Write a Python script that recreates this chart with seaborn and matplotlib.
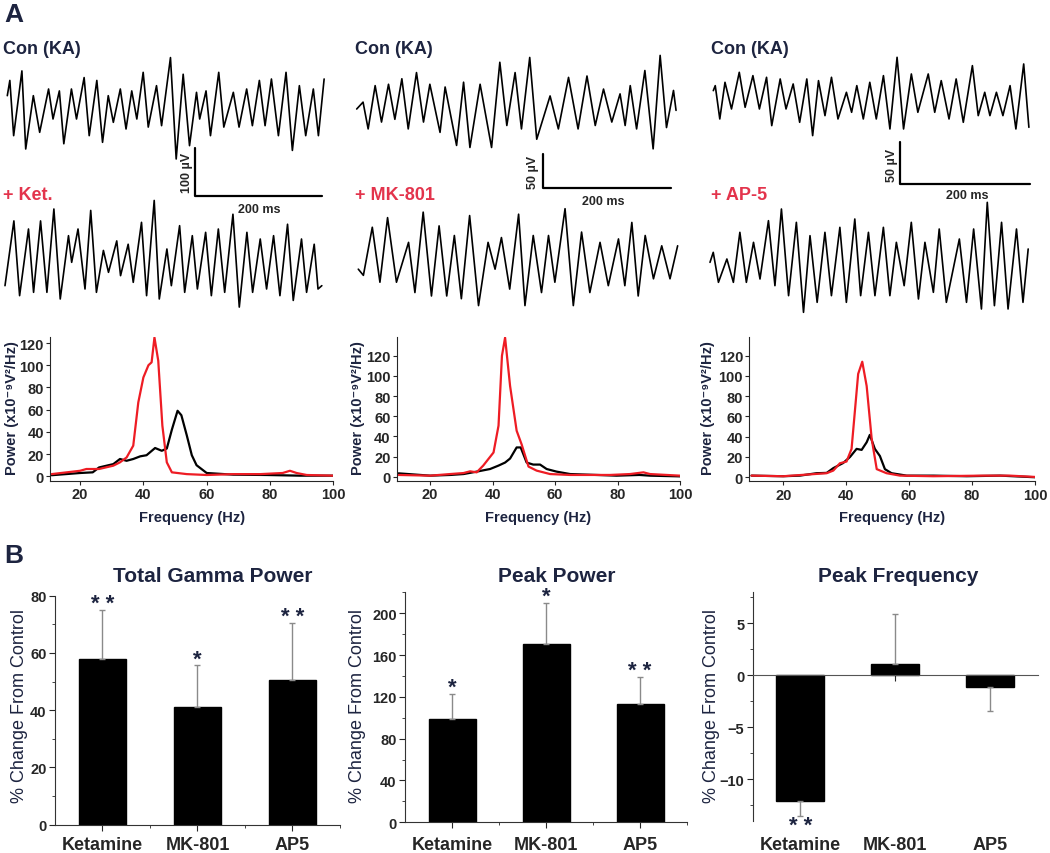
import matplotlib
matplotlib.use("Agg")
import matplotlib.pyplot as plt
import seaborn as sns
from matplotlib.ticker import MultipleLocator

# ---- raw LFP traces: time (ms) and voltage (uV) ----
con1_t = [0, 4, 10, 23, 29, 41, 51, 65, 72, 82, 89, 101, 109, 121, 129, 141, 150, 159, 167, 178,
          187, 196, 204, 214, 222, 235, 243, 257, 266, 277, 287, 298, 303, 313, 320, 333, 341,
          356, 365, 377, 386, 397, 406, 416, 427, 439, 449, 460, 470, 482, 490, 499]
con1_v = [28, 60, -56, 80, -84, 28, -49, 42, -21, 38, -73, 42, -21, 66, -56, 60, -70, 28, -28, 42,
          -42, 38, -21, 77, -38, 49, -35, 108, -105, 73, -77, 35, -21, 38, -56, 77, -38,
          35, -38, 42, -35, 60, -35, 63, -56, 77, -87, 49, -56, 42, -56, 63]
ket_t = [0, 14, 23, 37, 45, 56, 66, 77, 87, 100, 105, 115, 126, 135, 144, 155, 163, 176, 182, 194,
         202, 215, 223, 235, 243, 255, 262, 275, 283, 295, 303, 316, 325, 336, 346, 359, 369, 381,
         390, 402, 412, 423, 433, 445, 454, 467, 475, 487, 493, 499]
ket_v = [-56, 80, -77, 63, -70, 80, -70, 105, -84, 49, -7, 63, -63, 102, -70, 18, -28, 38, -35, 31,
         -49, 77, -77, 123, -84, 21, -56, 70, -70, 49, -63, 56, -77, 63, -70, 94, -101, 56,
         -70, 42, -63, 49, -77, 73, -87, 42, -70, 31, -63, -56]
con2_t = [0, 10, 18, 29, 39, 50, 60, 71, 81, 94, 105, 115, 131, 139, 157, 168, 178, 194, 212, 225,
          236, 249, 259, 272, 283, 304, 317, 333, 348, 362, 375, 388, 401, 414, 422, 430, 440,
          453, 466, 477, 487, 498, 502]
con2_v = [0, 10, -29, 34, -19, 36, -15, 44, -29, 53, -19, 36, -34, 32, -53, 39, -56, 36, -56, 68,
          -24, 53, -29, 75, -44, 19, -29, 46, -29, 48, -24, 29, -19, 22, -24, 34, -29,
          56, -58, 78, -27, 27, -2]
mk_t = [0, 8, 22, 34, 46, 60, 79, 89, 102, 115, 127, 139, 151, 162, 175, 189, 204, 215, 225, 238,
        252, 262, 275, 288, 299, 309, 325, 338, 351, 364, 380, 393, 409, 419, 430, 440, 451,
        464, 477, 490, 502]
mk_v = [-10, -19, 51, -29, 65, -29, 29, -44, 73, -49, 53, -49, 39, -53, 68, -63, 29, -10, 36, -39,
        70, -63, 39, -44, 39, -29, 78, -63, 44, -44, 29, -34, 34, -34, 58, -49, 39,
        -24, 24, -24, 24]
con3_t = [0, 3, 10, 18, 28, 40, 49, 61, 71, 82, 90, 103, 112, 123, 133, 144, 153, 162, 172, 182,
          192, 205, 213, 221, 231, 241, 251, 262, 272, 283, 293, 305, 315, 331, 341, 351, 363,
          374, 385, 399, 408, 418, 426, 436, 446, 457, 466, 478, 486]
con3_v = [14, 20, -20, 24, -8, 36, -6, 32, -8, 30, -28, 28, -8, 22, -24, 28, -40, 26, -16, 30,
          -20, 12, -12, 20, -20, 24, -20, 32, -32, 54, -32, 34, -12, 34, -12, 26, -20,
          28, -24, 44, -16, 12, -16, 12, -16, 20, -32, 46, -30]
ap5_t = [0, 5, 13, 26, 36, 46, 56, 67, 77, 90, 100, 110, 121, 133, 144, 154, 165, 177, 187, 200,
         210, 223, 232, 244, 254, 267, 277, 287, 299, 310, 321, 331, 344, 353, 364, 384, 395,
         406, 418, 427, 438, 449, 459, 472, 482, 490]
ap5_v = [8, 20, -16, 12, -16, 44, -16, 32, -12, 58, -20, 72, -32, 56, -52, 40, -40, 44, -32, 50,
         -40, 60, -32, 44, -32, 50, -32, 32, -20, 56, -36, 32, -28, 48, -40, 36, -40,
         48, -48, 80, -44, 56, -48, 48, -40, 24]

# ---- power spectra (Hz, x10^-9 V^2/Hz) ----
f1_con = [11, 20, 24, 26, 30.5, 32.6, 34.7, 36.8, 39, 41, 43.7, 45.8, 47.4, 49, 50.8, 52, 53.7,
          55.3, 56.8, 60, 68.4, 79, 89.5, 100]
p1_con = [1, 3, 3.6, 8, 11, 15.6, 14, 15.6, 18, 19, 25.5, 23, 25, 42, 59, 55, 37,
          19, 10, 3, 1.5, 1.2, 0.6, 0.6]
f1_drug = [11, 20, 22, 26, 30.5, 32.6, 34.7, 36.8, 38.4, 40, 41.6, 42.6, 43.5, 44.7, 46, 47.4, 49,
           53.7, 60, 68.4, 77, 84, 86.3, 88.4, 91.6, 100]
p1_drug = [2, 5, 6.6, 6.6, 9.6, 12.6, 17, 27.6, 66.6, 89, 100, 102.6, 125, 104, 45.6, 12.6, 3.6,
           2, 1.2, 2, 2, 3, 5, 3, 1.2, 0.6]
f2_con = [9.9, 20, 26.4, 30.7, 34.9, 39.2, 41.9, 44, 45.6, 47.7, 49, 50.9, 53, 55.2, 57.3, 60.5,
          64.8, 73.3, 79.7, 87, 90.4, 100]
p2_con = [3.3, 1, 1.7, 2.6, 5, 7.6, 11, 14, 18, 29, 29, 14, 12, 12, 7.6, 5,
          2.6, 1.7, 1, 1.7, 1, 0.3]
f2_drug = [9.9, 20, 26.4, 30.7, 32.8, 34.9, 37, 40.3, 41.9, 43, 44, 45.6, 47.7, 49.3, 51.5, 54.1,
           58.4, 64.8, 77.6, 84, 88.3, 90.4, 100]
p2_drug = [1.7, 1, 2.6, 3.6, 5.3, 4.3, 11, 24, 50.6, 120, 138, 90, 45.6, 32, 10, 6,
           2.6, 1.7, 1.7, 2.6, 4.3, 2.6, 1]
f3_con = [9.9, 20, 25.3, 30.6, 33.8, 35.9, 39, 41.2, 43.3, 44.9, 46.5, 47.5, 49.1, 50.7, 52.3,
          54.4, 59.2, 67.7, 78.3, 88.9, 100]
p3_con = [1.6, 1, 1.6, 4, 4.3, 9, 14, 20, 28, 27, 34.5, 41.8, 28, 21, 8,
          4, 1.6, 1.6, 1, 1.6, 0]
f3_drug = [9.9, 20, 30.6, 33.8, 35.9, 38, 40.1, 41.7, 43.8, 45.1, 46.5, 48.1, 49.7, 52.8, 57.1,
           67.7, 83.6, 92, 100]
p3_drug = [1.6, 1, 3.3, 4, 6.6, 13.8, 15.5, 28, 102, 114, 90, 37.8, 8, 4, 1.6,
           1, 1.6, 1.6, 0.3]

# ---- summary bars (% change from control) ----
groups = ['Ketamine', 'MK-801', 'AP5']
gamma_mean = [58, 41, 50.6]
gamma_err = [17, 14.7, 19.9]
gamma_sig = ['* *', '*', '* *']
peak_mean = [99, 171, 113]
peak_err = [24, 39, 26]
peak_sig = ['*', '*', '* *']
freq_mean = [-12.1, 1.1, -1.1]
freq_err = [1.4, 4.8, 2.3]
freq_sig = ['* *', '', '']

NAVY = '#1d2440'
RED_TXT = '#e3344c'
RED = '#ee1c24'
W, H = 1050, 854

sns.set_style("ticks")
plt.rcParams['font.family'] = ['Liberation Sans', 'DejaVu Sans']
plt.rcParams['font.weight'] = 'bold'

fig = plt.figure(figsize=(W / 100, H / 100), dpi=100)


def px_axes(x0, y0, x1, y1):
    return fig.add_axes([x0 / W, 1 - y1 / H, (x1 - x0) / W, (y1 - y0) / H])


def ftext(x, y, s, **kw):
    fig.text(x / W, 1 - y / H, s, **kw)


def trace(t, v, t0px, ms_px, cy, uv_px):
    ax = px_axes(t0px - 4, cy - 80, t0px + 330, cy + 80)
    sns.lineplot(x=t, y=v, ax=ax, color='black', lw=1.2, estimator=None, sort=False)
    ax.set_xlim(-4 * ms_px, 330 * ms_px)
    ax.set_ylim(-80 * uv_px, 80 * uv_px)
    ax.axis('off')
    return ax


def scalebar(ax, bx, by, t0px, ms_px, cy, uv_px, uv):
    tx = (bx - t0px) * ms_px
    yb = (cy - by) * uv_px
    ax.plot([tx, tx, tx + 200], [yb + uv, yb, yb], color='black', lw=1.6, clip_on=False)


# column layouts: trace params (t0 px, ms/px, center px, uV/px)
cols = [
    dict(tr1=(con1_t, con1_v, 7.3, 1.575, 110, 2.1), tr2=(ket_t, ket_v, 5, 1.575, 260, 2.1),
         bar=(195, 197, 100), cx=3, drug='+ Ket.', uvlab=(187, 173, '100 µV'), mslab=(259, 210)),
    dict(tr1=(con2_t, con2_v, 356.7, 1.572, 110, 1.455), tr2=(mk_t, mk_v, 358.3, 1.572, 263.3, 1.455),
         bar=(543.3, 189.3, 50), cx=355, drug='+ MK-801', uvlab=(533, 172, '50 µV'), mslab=(603, 202)),
    dict(tr1=(con3_t, con3_v, 713.3, 1.54, 103.3, 1.2), tr2=(ap5_t, ap5_v, 710, 1.54, 270, 1.2),
         bar=(900, 185, 50), cx=711, drug='+ AP-5', uvlab=(892, 165, '50 µV'), mslab=(967, 196)),
]
for c in cols:
    a1 = trace(*c['tr1'])
    trace(*c['tr2'])
    bx, by, uv = c['bar']
    _, _, t0px, ms_px, cy, uv_px = c['tr1']
    scalebar(a1, bx, by, t0px, ms_px, cy, uv_px, uv)
    ftext(c['cx'], 49, 'Con (KA)', color=NAVY, fontsize=13, fontweight='bold', va='center')
    ftext(c['cx'], 195, c['drug'], color=RED_TXT, fontsize=13, fontweight='bold', va='center')
    ux, uy, us = c['uvlab']
    ftext(ux, uy, us, rotation=90, fontsize=9, fontweight='bold', ha='center', va='center')
    ftext(c['mslab'][0], c['mslab'][1], '200 ms', fontsize=9, fontweight='bold', ha='center', va='center')

ftext(4, 15, 'A', fontsize=19, fontweight='bold', color=NAVY, va='center')
ftext(4, 556, 'B', fontsize=19, fontweight='bold', color=NAVY, va='center')

# ---- spectra ----
spec = [
    ((50, 338, 333.3, 482), (10.5, 100), (-4.2, 125.4), f1_con, p1_con, f1_drug, p1_drug, 12),
    ((396.7, 338, 680, 481.7), (9.3, 100), (-4, 138.6), f2_con, p2_con, f2_drug, p2_drug, 358),
    ((749.3, 338, 1035, 482.3), (9.2, 100), (-4, 138.4), f3_con, p3_con, f3_drug, p3_drug, 708),
]
for box, xl, yl, fc, pc, fd, pd_, ylx in spec:
    ax = px_axes(*box)
    sns.lineplot(x=fc, y=pc, ax=ax, color='black', lw=1.6, estimator=None, sort=False)
    sns.lineplot(x=fd, y=pd_, ax=ax, color=RED, lw=1.6, estimator=None, sort=False)
    ax.set_xlim(*xl)
    ax.set_ylim(*yl)
    ax.set_xticks([20, 40, 60, 80, 100])
    ax.set_yticks([0, 20, 40, 60, 80, 100, 120])
    ax.tick_params(labelsize=10.5, length=3, width=0.8, pad=1.5)
    for s in ['top', 'right']:
        ax.spines[s].set_visible(False)
    for s in ['left', 'bottom']:
        ax.spines[s].set_linewidth(0.8)
    ax.set_xlabel('')
    ax.set_ylabel('')
    ftext((box[0] + box[2]) / 2, 518, 'Frequency (Hz)', color=NAVY, fontsize=10.5,
          fontweight='bold', ha='center', va='center')
    ftext(ylx, 408, 'Power (x10⁻⁹V²/Hz)', color=NAVY, fontsize=10.5, fontweight='bold',
          rotation=90, ha='center', va='center')

# ---- bar charts ----
bars = [
    ((55, 596.7, 340, 825.7), (0, 80), 20, 10, gamma_mean, gamma_err, gamma_sig, 'Total Gamma Power', 213, 20),
    ((405, 593.3, 687, 823.3), (0, 220), 40, 20, peak_mean, peak_err, peak_sig, 'Peak Power', 557, 358),
    ((752.7, 593.3, 1037.7, 821.7), (-14, 8), 5, 2.5, freq_mean, freq_err, freq_sig, 'Peak Frequency', 898, 711),
]
for i, (box, yl, maj, mnr, mean, err, sig, title, tx, ylx) in enumerate(bars):
    ax = px_axes(*box)
    sns.barplot(x=groups, y=mean, ax=ax, color='black', saturation=1, width=0.5,
                errorbar=None, edgecolor='black')
    lower = [e if m < 0 else 0 for m, e in zip(mean, err)]
    upper = [e if m >= 0 else 0 for m, e in zip(mean, err)]
    ax.errorbar(range(3), mean, yerr=[lower, upper], fmt='none', ecolor='#8a8a8a',
                elinewidth=1, capsize=2, capthick=1)
    for k, s in enumerate(sig):
        if not s:
            continue
        end = mean[k] + upper[k] - lower[k]
        dy = -3 if mean[k] >= 0 else -14.5
        ax.annotate(s, (k, end), xytext=(0, dy), textcoords='offset points',
                    ha='center', va='bottom', fontsize=16, color=NAVY)
    ax.set_xlim(-0.5, 2.5)
    ax.set_ylim(*yl)
    ax.yaxis.set_major_locator(MultipleLocator(maj))
    ax.yaxis.set_minor_locator(MultipleLocator(mnr))
    ax.tick_params(axis='y', labelsize=10.5, length=4, width=0.8, pad=2)
    ax.tick_params(axis='y', which='minor', length=2, width=0.6)
    ax.tick_params(axis='x', labelbottom=False, length=4, width=0.8)
    if i < 2:
        ax.set_xticks([0.5, 1.5, 2.5], minor=True)
        ax.tick_params(axis='x', which='minor', length=2, width=0.6)
    for s in ['top', 'right']:
        ax.spines[s].set_visible(False)
    for s in ['left', 'bottom']:
        ax.spines[s].set_linewidth(0.8)
        ax.spines[s].set_color('#333333')
    if yl[0] < 0:
        ax.spines['bottom'].set_position(('data', 0))
        ax.spines['bottom'].set_color('#555555')
    lab_dy = -(846 - box[3]) * 0.72
    for k, g in enumerate(groups):
        ax.annotate(g, (k, 0), xycoords=ax.get_xaxis_transform(), xytext=(0, lab_dy),
                    textcoords='offset points', ha='center', va='center',
                    fontsize=13, fontweight='bold')
    ax.set_ylabel('')
    ftext(tx, 577, title, color=NAVY, fontsize=15, fontweight='bold', ha='center', va='center')
    ftext(ylx, 706, '% Change From Control', color=NAVY, fontsize=13, fontweight='normal',
          rotation=90, ha='center', va='center')

fig.savefig('out.png', dpi=100)
